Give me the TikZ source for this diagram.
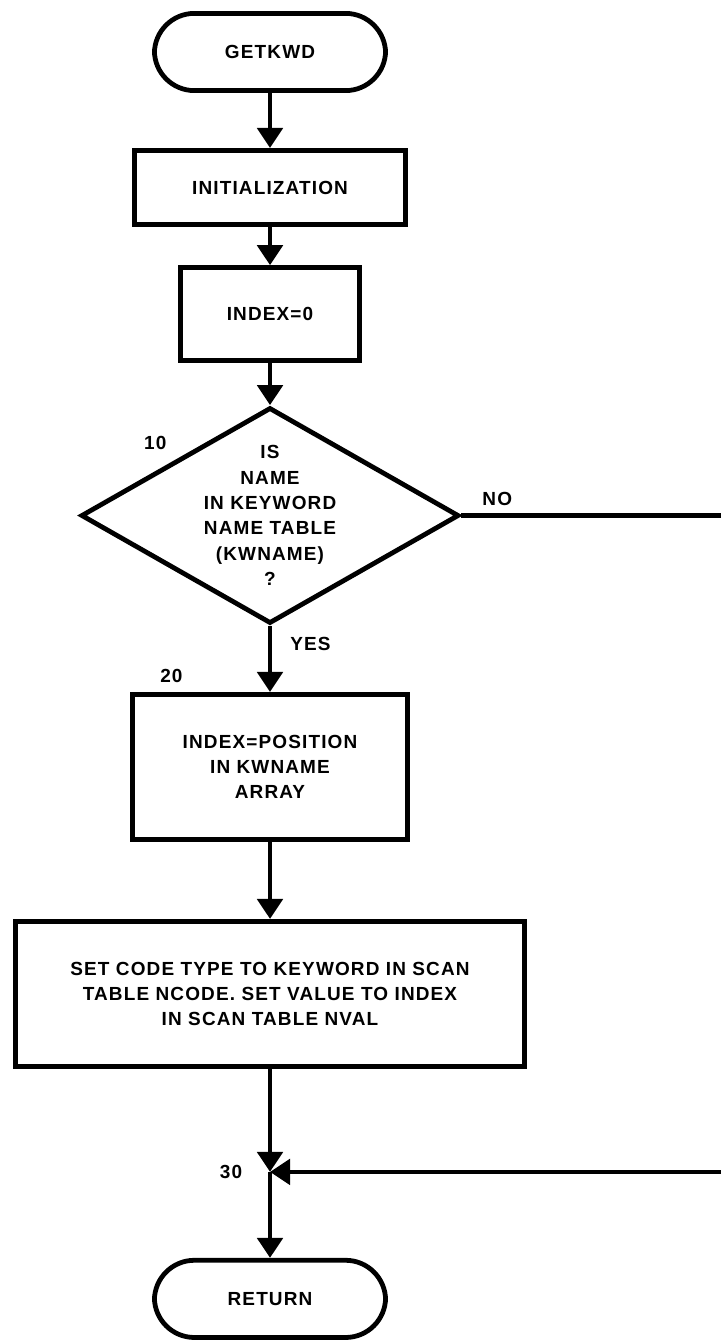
\documentclass[tikz,border=0pt]{standalone}
\usepackage{fontspec}
\usepackage{tikz}
\usetikzlibrary{arrows.meta,positioning,shapes.geometric}
\newfontfamily\chartfont{Liberation Sans}[LetterSpace=6]

\begin{document}
\begin{tikzpicture}[
    >={Triangle[width=6.3mm,length=5mm]},
    every node/.style={font=\chartfont\bfseries\fontsize{13.5}{18}\selectfont},
    gkterm/.style={draw,line width=3.4pt,rounded corners=10mm,minimum width=5.78cm,minimum height=1.93cm,align=center},
    gkproc/.style={draw,line width=3.4pt,align=center},
    gkdec/.style={draw,line width=3.4pt,diamond,shape aspect=1.75,minimum width=9.45cm,minimum height=5.4cm,inner sep=-1.5mm,align=center},
    gklbl/.style={inner sep=0pt},
    gkline/.style={line width=3.2pt}]
  \useasboundingbox (0,0) rectangle (18.025,-33.525);
  \coordinate (rim) at (18.025,0);
  \node[gkterm] (start) at (6.75,-1.3) {GETKWD};
  \node[gkproc,minimum width=6.78cm,minimum height=1.86cm,below=1.375cm of start] (init) {INITIALIZATION};
  \node[gkproc,minimum width=4.46cm,minimum height=2.33cm,below=0.95cm of init] (idx0) {INDEX=0};
  \node[gkdec,below=1.05cm of idx0] (q10) {IS\\NAME\\IN KEYWORD\\NAME TABLE\\(KWNAME)\\?};
  \node[gkproc,minimum width=6.86cm,minimum height=3.63cm,below=1.65cm of q10] (pos) {INDEX=POSITION\\IN KWNAME\\ARRAY};
  \node[gkproc,minimum width=12.73cm,minimum height=3.63cm,below=1.925cm of pos] (setcode)
    {SET CODE TYPE TO KEYWORD IN SCAN\\TABLE NCODE. SET VALUE TO INDEX\\IN SCAN TABLE NVAL};
  \coordinate[below=2.575cm of setcode] (j30);
  \node[gkterm,below=2.15cm of j30] (ret) {RETURN};
  % the NO branch leaves at the right edge and comes back in at 30
  \coordinate (noout) at (q10.east -| rim);
  \coordinate (noin) at (j30 -| rim);
  \node[gklbl,above left=2.6mm and 1.9mm of q10.north west] (l10) {10};
  \node[gklbl,above right=2.3mm and 5.2mm of q10.east] (lno) {NO};
  \node[gklbl,below right=2.8mm and 5mm of q10.south] (lyes) {YES};
  \node[gklbl,above right=2.3mm and 7.4mm of pos.north west] (l20) {20};
  \node[gklbl,left=6.9mm of j30] (l30) {30};
  \draw[gkline,->] (start) -- (init);
  \draw[gkline,->] (init) -- (idx0);
  \draw[gkline,->] (idx0) -- (q10);
  \draw[gkline,->] (q10) -- (pos);
  \draw[gkline,->] (pos) -- (setcode);
  \draw[gkline] (q10.east) -- (noout);
  \draw[gkline,->] (setcode) -- (j30);
  \draw[gkline,->] (noin) -- (j30);
  \draw[gkline,->] (j30) -- (ret);
\end{tikzpicture}
\end{document}
